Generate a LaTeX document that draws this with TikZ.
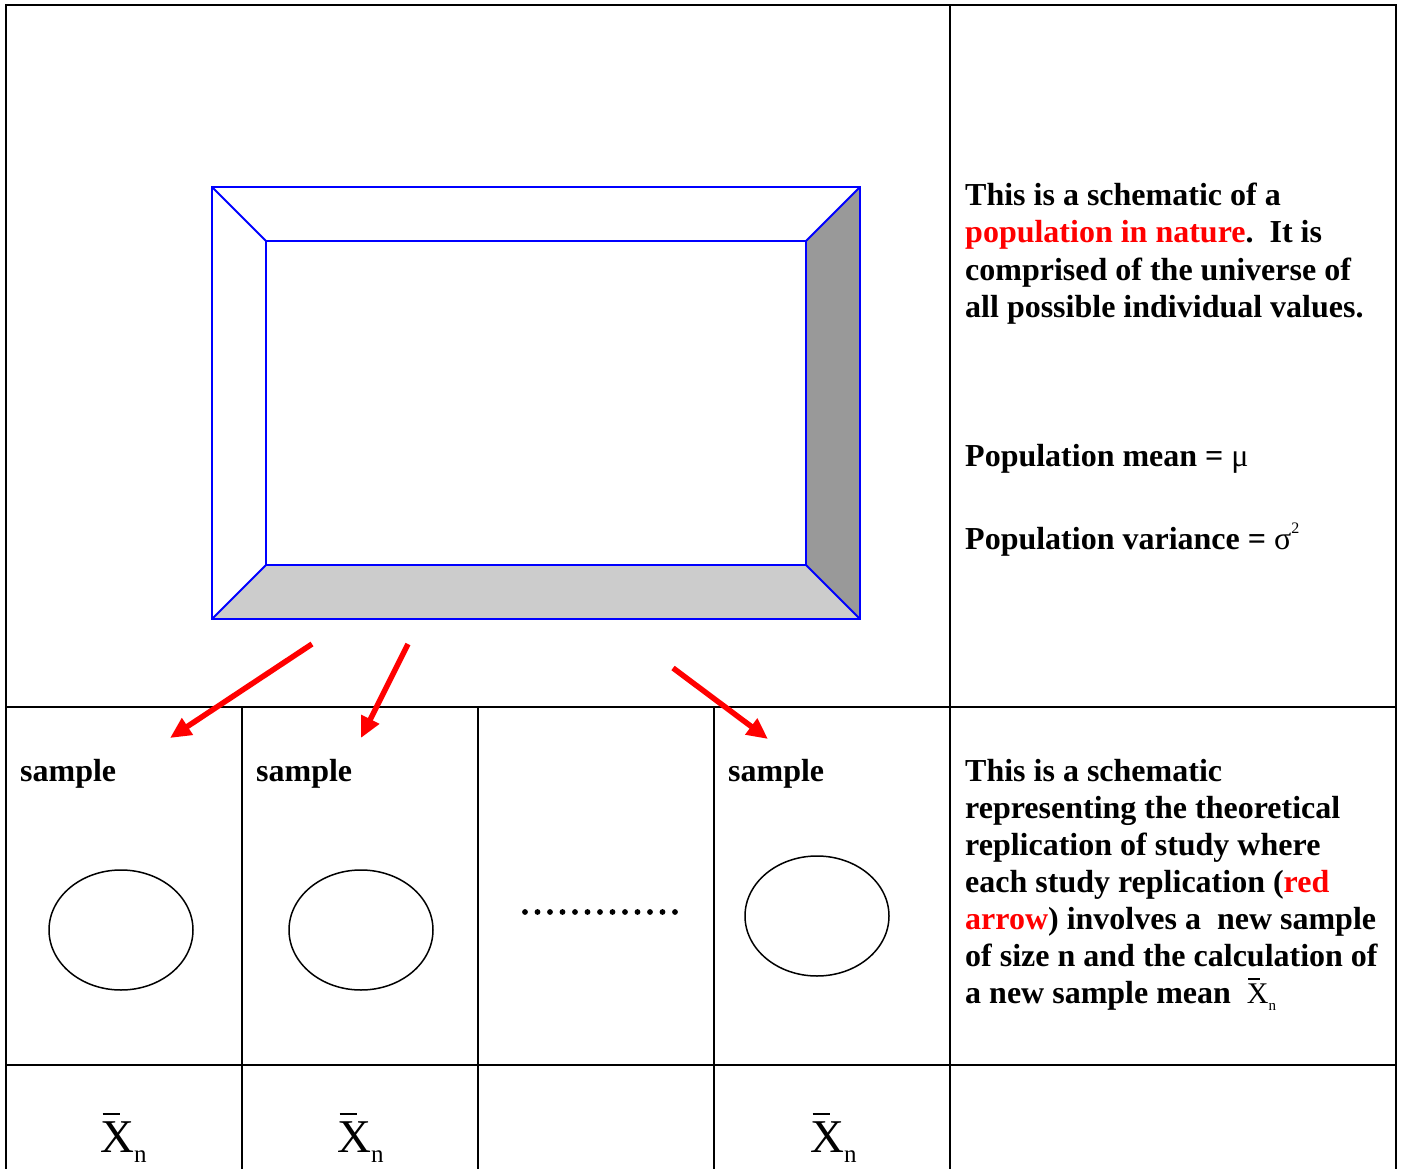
\documentclass[tikz,border=0pt]{standalone}
\usepackage{fontspec}
\setmainfont{Liberation Serif}
\usetikzlibrary{arrows.meta,shapes.geometric}
\definecolor{popred}{RGB}{255,0,0}
\definecolor{frameblue}{RGB}{0,0,255}
\definecolor{bevdark}{RGB}{153,153,153}
\definecolor{bevlight}{RGB}{204,204,204}
% X-bar with subscript n: #1 size of X, #2 size of n, #3 lowering of n
\newcommand{\myxbarn}[3]{{\fontsize{#1}{#1}\selectfont\mdseries\rlap{\kern0.05em\raisebox{0.78em}{\rule{0.37em}{0.045em}}}X}{\fontsize{#2}{#2}\selectfont\mdseries\raisebox{-#3}{n}}}
\begin{document}
\begin{tikzpicture}[x=1pt,y=-1pt,
  grid/.style={line width=2pt,black},
  frameline/.style={line width=2pt,frameblue,line join=miter},
  txt/.style={anchor=base west,inner sep=0pt,font=\fontsize{32}{37}\selectfont\bfseries},
  xbtxt/.style={anchor=base west,inner sep=0pt},
  redarrow/.style={line width=5.5pt,popred,-{Triangle[length=21pt,width=19pt]}},
  sampleell/.style={draw,black,line width=1.5pt,ellipse,minimum width=144pt,minimum height=120pt,inner sep=0pt}
]
\useasboundingbox (0,0) rectangle (1401,1169);
\fill[white] (0,0) rectangle (1401,1169);

% ---- table grid ----
\draw[grid] (6,1169) -- (6,5) -- (1396,5) -- (1396,1169);
\draw[grid] (6,707) -- (1396,707);
\draw[grid] (6,1065) -- (1396,1065);
\draw[grid] (950,5) -- (950,1169);
\draw[grid] (242,707) -- (242,1169);
\draw[grid] (478,707) -- (478,1169);
\draw[grid] (714,707) -- (714,1169);

% ---- bevelled frame (population) ----
\coordinate (oTL) at (212,187);
\coordinate (oTR) at (860,187);
\coordinate (oBR) at (860,619);
\coordinate (oBL) at (212,619);
\coordinate (iTL) at (266,241);
\coordinate (iTR) at (806,241);
\coordinate (iBR) at (806,565);
\coordinate (iBL) at (266,565);
\fill[bevdark] (iTR) -- (oTR) -- (oBR) -- (iBR) -- cycle;
\fill[bevlight] (oBL) -- (iBL) -- (iBR) -- (oBR) -- cycle;
\draw[frameline] (oTL) rectangle (oBR);
\draw[frameline] (iTL) rectangle (iBR);
\draw[frameline] (oTL) -- (iTL);
\draw[frameline] (oTR) -- (iTR);
\draw[frameline] (oBR) -- (iBR);
\draw[frameline] (oBL) -- (iBL);

% ---- red arrows ----
\coordinate (a1s) at (312,644);
\coordinate (a1e) at (170,738);
\coordinate (a2s) at (408,644);
\coordinate (a2e) at (361,738);
\coordinate (a3s) at (673,668);
\coordinate (a3e) at (768,739);
\draw[redarrow] (a1s) -- (a1e);
\draw[redarrow] (a2s) -- (a2e);
\draw[redarrow] (a3s) -- (a3e);

% ---- top-right text ----
\node[txt] (p1) at (965,206) {This is a schematic of a};
\node[txt] (p2) at (965,243) {\textcolor{popred}{population in nature}.\ \ It is};
\node[txt] (p3) at (965,280) {comprised of the universe of};
\node[txt] (p4) at (965,317) {all possible individual values.};
\node[txt] (pm) at (965,466) {Population mean = \textmd{μ}};
\node[txt] (pv) at (965,549) {Population variance = \textmd{σ\raisebox{0.5em}{\fontsize{16}{16}\selectfont 2}}};

% ---- samples ----
\node[txt] (s1) at (20,781) {sample};
\node[txt] (s2) at (256,781) {sample};
\node[txt] (s4) at (728,781) {sample};
\node[sampleell] (e1) at (121,930) {};
\node[sampleell] (e2) at (361,930) {};
\node[sampleell] (e4) at (817,916) {};
\foreach \i in {0,...,12} {
  \fill[black] ({525+12.5*\i},912) circle (2.9pt);
}

% ---- bottom-right text ----
\node[txt] (q1) at (965,781) {This is a schematic};
\node[txt] (q2) at (965,818) {representing the theoretical};
\node[txt] (q3) at (965,855) {replication of study where};
\node[txt] (q4) at (965,892) {each study replication (\textcolor{popred}{red}};
\node[txt] (q5) at (965,929) {\textcolor{popred}{arrow}) involves a\ \ new sample};
\node[txt] (q6) at (965,966) {of size n and the calculation of};
\node[txt] (q7) at (965,1003) {a new sample mean\ \ \myxbarn{30}{15}{7pt}};

% ---- sample means ----
\node[xbtxt] (m1) at (100,1152) {\myxbarn{47}{25}{10pt}};
\node[xbtxt] (m2) at (337,1152) {\myxbarn{47}{25}{10pt}};
\node[xbtxt] (m4) at (810,1152) {\myxbarn{47}{25}{10pt}};
\end{tikzpicture}
\end{document}
